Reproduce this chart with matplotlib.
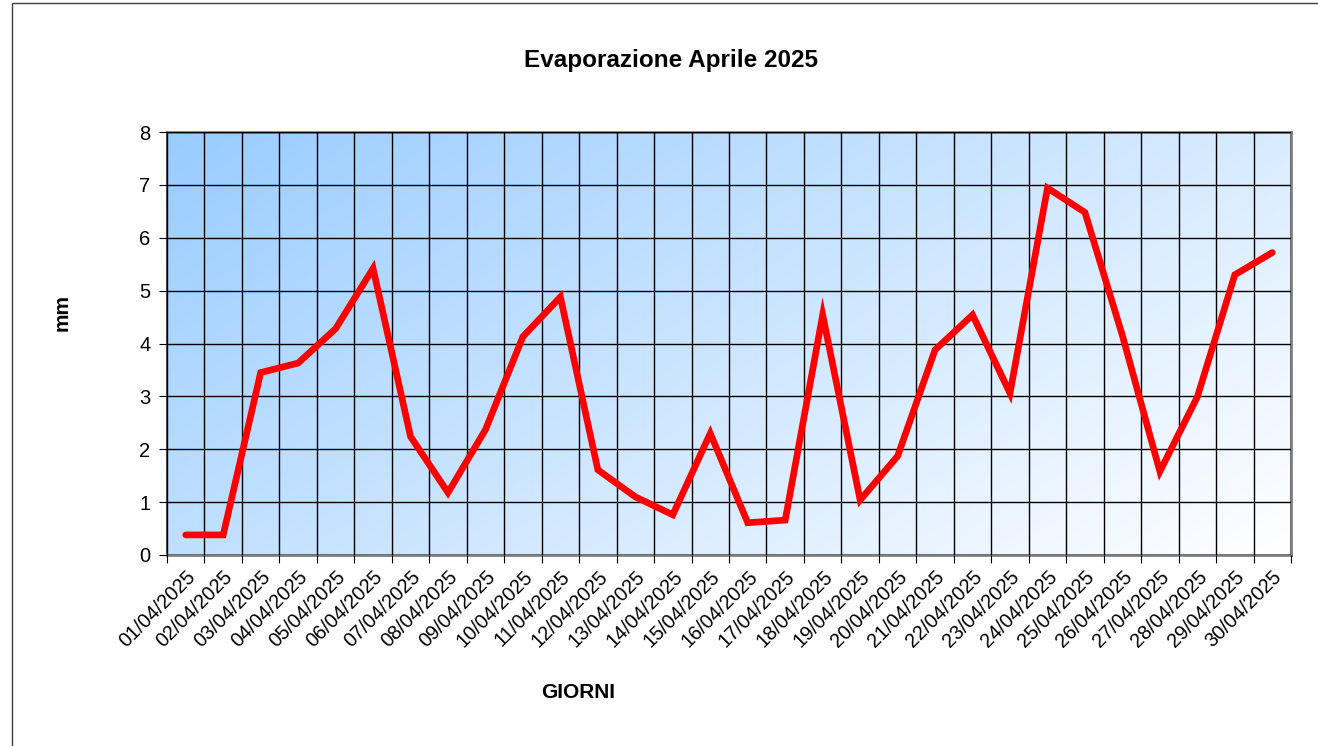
import matplotlib
matplotlib.use("Agg")
import matplotlib.pyplot as plt
import numpy as np
from matplotlib.colors import LinearSegmentedColormap
from matplotlib.patches import Rectangle

days = [f"{d:02d}/04/2025" for d in range(1, 31)]
evaporation = [0.38, 0.38, 3.45, 3.63, 4.28, 5.42, 2.24, 1.18, 2.37, 4.13,
               4.88, 1.61, 1.10, 0.76, 2.30, 0.61, 0.66, 4.54, 1.04, 1.87,
               3.88, 4.54, 3.06, 6.94, 6.48, 4.15, 1.58, 2.99, 5.30, 5.72]
yticks = [0, 1, 2, 3, 4, 5, 6, 7, 8]

plt.rcParams['font.family'] = ['Liberation Sans', 'DejaVu Sans']

fig = plt.figure(figsize=(13.18, 7.46), dpi=100)
fig.patches.append(Rectangle((12/1318, -0.01), 1.05, 1 - 3/746 + 0.01,
                             transform=fig.transFigure, fill=False,
                             edgecolor='#404040', linewidth=1.0))

ax = fig.add_axes([167/1318, 1 - 555/746, (1291 - 167)/1318, (555 - 132)/746])

n = len(days)
x = np.arange(n) + 0.5

# gradient background
cmap = LinearSegmentedColormap.from_list('bg', ['#99CCFF', '#FFFFFF'])
gx, gy = np.meshgrid(np.linspace(0, 1, 300), np.linspace(1, 0, 300))
grad = 0.62 * gx + 0.38 * (1 - gy)
grad = grad / grad.max()
ax.imshow(grad, cmap=cmap, extent=[0, 1, 0, 1], transform=ax.transAxes,
          aspect='auto', zorder=0, vmin=0, vmax=1)

ax.plot(x, evaporation, color='#FF0000', linewidth=4.8, solid_joinstyle='miter',
        solid_capstyle='round', zorder=3)

ax.set_xlim(0, n)
ax.set_ylim(0, 8)
ax.set_yticks(yticks)
ax.set_xticks(np.arange(n + 1))
ax.set_xticklabels([])
ax.set_xticks(x, minor=True)
ax.set_xticklabels(days, minor=True, rotation=45, ha='right', va='top',
                   rotation_mode='anchor', fontsize=14.3)
ax.tick_params(axis='x', which='minor', length=0, pad=9)
ax.tick_params(axis='x', which='major', length=6, direction='out', color='black')
ax.tick_params(axis='y', length=6, direction='out', labelsize=14.5, pad=6)

ax.grid(True, which='major', color='black', linewidth=1.0, zorder=1)
ax.set_axisbelow(False)
for line in ax.get_xgridlines() + ax.get_ygridlines():
    line.set_zorder(1)

for side in ['top', 'right', 'bottom']:
    ax.spines[side].set_color('#808080')
    ax.spines[side].set_linewidth(2)
ax.spines['left'].set_color('#202020')
ax.spines['left'].set_linewidth(1.2)

fig.text(671/1318, 1 - 60/746, 'Evaporazione Aprile 2025', ha='center', va='center',
         fontsize=17.5, fontweight='bold')
fig.text(62/1318, 1 - 312/746, 'mm', ha='center', va='center', rotation=90,
         fontsize=15, fontweight='bold')
fig.text(578/1318, 1 - 693/746, 'GIORNI', ha='center', va='center',
         fontsize=15, fontweight='bold')

fig.savefig('out.png', dpi=100)
